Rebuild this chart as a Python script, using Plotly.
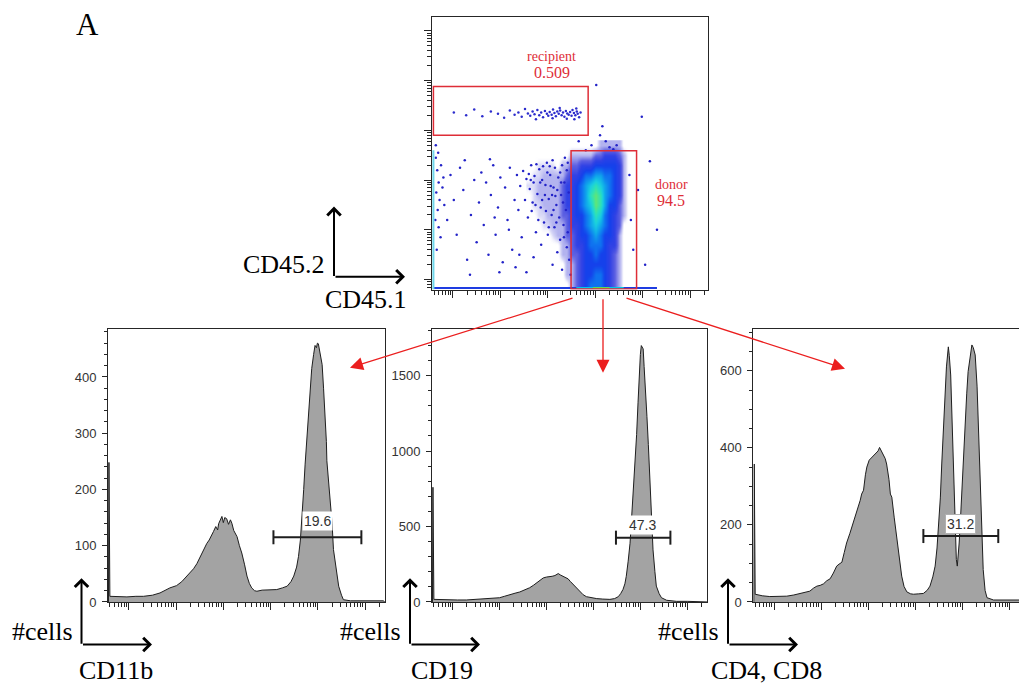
import plotly.graph_objects as go

W, H = 1019, 690

# ---------------- data (log-decade units on x, counts on y) ----------------
hist_cd11b = [(-0.43, 0), (-0.42, 248), (-0.40, 10), (-0.20, 9), (-0.04, 9), (0.15, 10), (0.31, 10),
              (0.50, 12), (0.66, 16), (0.87, 25), (1.01, 29), (1.12, 36), (1.23, 46), (1.30, 52),
              (1.37, 59), (1.44, 68), (1.51, 81), (1.58, 92), (1.65, 104), (1.70, 110), (1.74, 118),
              (1.79, 125), (1.84, 134), (1.88, 128), (1.90, 139), (1.94, 148), (1.97, 152), (2.00, 141),
              (2.03, 150), (2.07, 148), (2.11, 138), (2.15, 146), (2.18, 140), (2.22, 127), (2.29, 116),
              (2.34, 100), (2.39, 87), (2.45, 66), (2.50, 46), (2.55, 33), (2.60, 25), (2.66, 20),
              (2.71, 19), (2.82, 21), (2.92, 21), (3.02, 22), (3.13, 22), (3.25, 25), (3.35, 28),
              (3.43, 36), (3.49, 46), (3.55, 62), (3.59, 81), (3.63, 110), (3.66, 145), (3.70, 200),
              (3.73, 245), (3.77, 295), (3.80, 339), (3.84, 380), (3.87, 415), (3.91, 440), (3.94, 456),
              (3.97, 452), (3.99, 460), (4.01, 459), (4.05, 440), (4.09, 422), (4.12, 380), (4.16, 321),
              (4.18, 285), (4.19, 251), (4.23, 215), (4.26, 186), (4.30, 140), (4.33, 93), (4.39, 55),
              (4.44, 28), (4.50, 12), (4.54, 4), (4.69, 2), (5.00, 2), (5.39, 2), (5.41, 0)]

hist_cd19 = [(-0.43, 0), (-0.42, 760), (-0.40, 17), (-0.20, 14), (-0.06, 13), (0.10, 13), (0.29, 13),
             (0.50, 17), (0.72, 22), (0.86, 25), (1.00, 28), (1.11, 38), (1.22, 50), (1.33, 58),
             (1.43, 66), (1.54, 80), (1.64, 94), (1.72, 110), (1.79, 127), (1.86, 145), (1.93, 159),
             (2.00, 165), (2.07, 166), (2.12, 170), (2.18, 175), (2.22, 182), (2.25, 188), (2.30, 178),
             (2.35, 170), (2.40, 162), (2.46, 153), (2.51, 135), (2.57, 116), (2.64, 90), (2.71, 66),
             (2.78, 48), (2.85, 35), (2.95, 27), (3.07, 22), (3.20, 19), (3.35, 17), (3.45, 22),
             (3.53, 35), (3.58, 55), (3.63, 83), (3.67, 120), (3.70, 170), (3.74, 270), (3.78, 389),
             (3.81, 540), (3.85, 738), (3.88, 920), (3.92, 1109), (3.95, 1320), (3.97, 1502),
             (4.00, 1640), (4.02, 1699), (4.04, 1690), (4.06, 1677), (4.08, 1560), (4.11, 1415),
             (4.14, 1230), (4.17, 1044), (4.20, 850), (4.22, 694), (4.25, 500), (4.27, 345),
             (4.31, 200), (4.34, 105), (4.40, 55), (4.45, 28), (4.56, 11), (4.77, 4), (5.00, 4),
             (5.41, 4), (5.42, 0)]

hist_cd4cd8 = [(-0.43, 0), (-0.42, 358), (-0.40, 20), (-0.25, 16), (-0.09, 14), (0.10, 14), (0.27, 15),
               (0.42, 18), (0.55, 22), (0.66, 24), (0.76, 28), (0.84, 36), (0.91, 41), (0.98, 43),
               (1.05, 47), (1.12, 55), (1.19, 60), (1.26, 75), (1.33, 93), (1.38, 98), (1.44, 103),
               (1.49, 128), (1.54, 153), (1.61, 178), (1.68, 204), (1.74, 230), (1.79, 250), (1.83, 264),
               (1.86, 280), (1.90, 290), (1.94, 330), (1.97, 350), (2.02, 368), (2.07, 375), (2.12, 380),
               (2.18, 388), (2.21, 392), (2.24, 401), (2.28, 392), (2.32, 380), (2.36, 372), (2.39, 358),
               (2.44, 318), (2.47, 280), (2.50, 272), (2.55, 220), (2.60, 170), (2.66, 110), (2.71, 67),
               (2.76, 40), (2.82, 26), (2.90, 21), (2.96, 20), (3.07, 21), (3.17, 22), (3.25, 30),
               (3.31, 41), (3.37, 65), (3.42, 93), (3.46, 140), (3.49, 187), (3.53, 270), (3.56, 358),
               (3.60, 460), (3.63, 547), (3.66, 610), (3.70, 662), (3.72, 640), (3.75, 589), (3.78, 470),
               (3.81, 332), (3.84, 170), (3.87, 110), (3.89, 93), (3.91, 120), (3.93, 153), (3.96, 220),
               (3.98, 272), (4.02, 380), (4.05, 461), (4.09, 540), (4.12, 598), (4.16, 640), (4.20, 667),
               (4.23, 660), (4.27, 641), (4.31, 560), (4.34, 461), (4.37, 360), (4.39, 272), (4.42, 160),
               (4.44, 84), (4.48, 30), (4.52, 11), (4.66, 5), (5.00, 5), (5.20, 5)]

# gate bars: (start, end, level), gate labels: (text, x, y)
gate_cd11b = (3.06, 4.92, 115)
gate_cd19 = (3.48, 4.64, 426)
gate_cd4cd8 = (3.17, 4.76, 171)
label_cd11b = ("19.6", 3.99, 144)
label_cd19 = ("47.3", 4.04, 509)
label_cd4cd8 = ("31.2", 3.95, 201)

# dot plot: event density (rows = CD45.2 decades, cols = CD45.1 decades)
dens_x = [1.6, 1.7, 1.8, 1.9, 2.0, 2.1, 2.2, 2.3, 2.4, 2.5, 2.6, 2.7, 2.8, 2.9, 3.0, 3.1, 3.2, 3.3,
          3.4, 3.5, 3.6, 3.7]
dens_y = [-0.1, 0.1, 0.3, 0.5, 0.7, 0.9, 1.1, 1.3, 1.5, 1.7, 1.9, 2.1, 2.3, 2.5, 2.7]
dens_z = [
    [0, 0, 0, 0, 0, 0, 0, 0, 0, 1, 2, 3, 4, 5, 5, 5, 4, 3, 2, 1, 0, 0],
    [0, 0, 0, 0, 0, 0, 0, 0, 1, 1, 2, 3, 4, 4, 5, 5, 4, 3, 2, 1, 0, 0],
    [0, 0, 0, 0, 0, 0, 0, 0, 1, 1, 2, 3, 4, 4, 4, 4, 4, 3, 2, 1, 0, 0],
    [0, 0, 0, 0, 0, 0, 0, 1, 1, 2, 2, 3, 4, 4, 5, 4, 4, 3, 2, 1, 0, 0],
    [0, 0, 0, 0, 0, 0, 0, 1, 1, 2, 3, 3, 4, 5, 5, 5, 4, 3, 3, 1, 0, 0],
    [0, 0, 0, 0, 0, 0.5, 1, 1, 2, 2, 3, 4, 4, 5, 6, 5, 4, 4, 3, 1, 0, 0],
    [0, 0, 0, 0.5, 0.5, 1, 1, 1, 2, 3, 3, 4, 5, 6, 7, 6, 5, 4, 3, 2, 0, 0],
    [0, 0, 0.5, 0.5, 1, 1, 1, 2, 2, 3, 4, 4, 5, 6, 8, 7, 5, 4, 3, 2, 1, 0],
    [0, 0.5, 0.5, 1, 1, 1, 1, 2, 3, 3, 4, 5, 6, 7, 9, 8, 6, 4, 4, 2, 1, 0],
    [0, 0.5, 1, 1, 1, 1, 1, 2, 3, 3, 4, 5, 6, 8, 9, 8, 6, 5, 4, 3, 1, 0],
    [0.5, 0.5, 1, 1, 1, 1, 1, 2, 3, 3, 4, 5, 6, 7, 8, 7, 6, 5, 4, 3, 1, 0],
    [0, 0.5, 0.5, 1, 1, 1, 1, 1, 2, 3, 3, 4, 5, 5, 6, 6, 5, 5, 4, 3, 1, 0],
    [0, 0, 0.5, 0.5, 0.5, 0.5, 0, 1, 1, 2, 2, 3, 3, 3, 4, 4, 4, 4, 4, 3, 1, 0],
    [0, 0, 0, 0, 0, 0, 0, 0, 0, 1, 1, 1, 1, 1, 2, 2, 3, 3, 3, 2, 1, 0],
    [0, 0, 0, 0, 0, 0, 0, 0, 0, 0, 0, 0, 0, 0, 0, 1, 1, 1, 1, 1, 0, 0],
]

recipient_events = [(0.02, 3.36), (0.28, 3.30), (0.45, 3.42), (0.62, 3.28), (0.80, 3.38), (0.95, 3.33),
                    (1.08, 3.25), (1.20, 3.40), (1.30, 3.31), (1.38, 3.36), (1.45, 3.27), (1.52, 3.43),
                    (1.58, 3.34), (1.63, 3.29), (1.68, 3.38), (1.72, 3.32), (1.78, 3.41), (1.82, 3.30),
                    (1.86, 3.36), (1.90, 3.26), (1.94, 3.39), (1.98, 3.33), (2.01, 3.29), (2.04, 3.37),
                    (2.08, 3.31), (2.11, 3.42), (2.14, 3.35), (2.17, 3.28), (2.20, 3.38), (2.23, 3.33),
                    (2.26, 3.40), (2.29, 3.30), (2.32, 3.36), (2.35, 3.27), (2.38, 3.39), (2.41, 3.34),
                    (2.44, 3.31), (2.47, 3.37), (2.50, 3.29), (2.52, 3.41), (2.55, 3.35), (2.58, 3.30),
                    (2.61, 3.38), (2.63, 3.33), (2.66, 3.26), (2.69, 3.36), (2.60, 3.44), (2.40, 3.23),
                    (2.25, 3.45), (2.10, 3.24), (1.75, 3.22), (2.56, 3.22)]

scattered_events = [(2.40, 2.20), (2.35, 1.95), (2.30, 2.30), (2.28, 1.70), (2.22, 2.05), (2.18, 1.50),
                    (2.15, 2.25), (2.12, 1.85), (2.08, 1.30), (2.05, 2.10), (2.02, 1.62), (1.98, 2.35),
                    (1.95, 1.90), (1.92, 1.15), (1.88, 2.00), (1.85, 1.45), (1.82, 2.22), (1.78, 1.72),
                    (1.75, 0.95), (1.72, 2.08), (1.68, 1.55), (1.65, 2.30), (1.62, 1.82), (1.58, 1.25),
                    (1.55, 2.02), (1.52, 1.60), (1.48, 2.18), (1.45, 0.85), (1.42, 1.88), (1.38, 1.40),
                    (2.38, 1.40), (2.33, 1.10), (2.26, 0.80), (2.20, 0.55), (2.14, 1.05), (2.10, 2.40),
                    (2.00, 0.90), (1.96, 1.38), (1.90, 2.28), (1.86, 0.70), (2.44, 1.75), (2.42, 0.95),
                    (2.36, 2.45), (2.24, 1.25), (2.16, 1.68), (2.06, 1.88), (1.99, 2.15), (1.80, 1.20),
                    (1.70, 1.95), (1.60, 2.12),
                    (1.35, 2.10), (1.30, 1.60), (1.25, 0.60), (1.20, 2.25), (1.15, 1.20), (1.10, 1.85),
                    (1.05, 0.35), (1.00, 2.05), (0.95, 1.45), (0.90, 0.90), (0.85, 2.30), (0.80, 1.70),
                    (0.75, 0.50), (0.70, 1.95), (0.65, 1.10), (0.60, 2.15), (0.55, 1.55), (0.50, 0.75),
                    (1.32, 0.25), (1.18, 1.00), (0.98, 0.15), (0.78, 2.42), (1.40, 0.50), (0.88, 1.25),
                    (0.45, 2.00), (0.38, 1.30), (0.30, 0.40), (0.22, 1.80), (0.15, 2.25), (0.08, 0.90),
                    (0.02, 1.60), (-0.05, 2.10), (-0.12, 1.20), (0.36, 0.10), (0.25, 2.40),
                    (-0.36, 2.45), (-0.33, 2.20), (-0.30, 1.95), (-0.35, 1.75), (-0.28, 1.60), (-0.32, 1.40),
                    (-0.25, 2.30), (-0.22, 1.85), (-0.37, 1.20), (-0.30, 1.05), (-0.26, 0.85), (-0.20, 2.05),
                    (-0.34, 0.60), (-0.18, 1.50), (-0.36, 2.70), (-0.31, 2.55),
                    (3.02, 3.91), (3.98, 3.27), (4.15, 2.38), (3.10, 2.90), (3.22, 2.78), (3.30, 2.66),
                    (2.92, 2.70), (3.38, 2.62), (2.65, 2.78), (3.15, 3.08), (2.80, 2.60), (3.45, 2.70),
                    (3.75, 1.20), (3.80, 0.60), (3.90, 1.80), (4.05, 0.30), (3.72, 2.10), (4.30, 1.00),
                    (2.45, 0.40), (2.30, 0.20), (2.48, 0.10), (2.10, 0.30), (1.70, 0.45), (1.55, 0.15),
                    (2.40, 0.65),
                    (2.32, 1.55), (2.26, 2.15), (2.20, 1.80), (2.12, 1.40), (2.04, 2.28), (1.94, 1.70),
                    (1.84, 1.95), (1.76, 2.32), (1.66, 1.38), (2.42, 2.35), (2.34, 0.85), (2.18, 1.15),
                    (2.02, 1.05), (1.88, 1.60), (1.74, 1.50), (1.64, 2.00), (2.28, 1.95), (2.09, 1.70)]

# off-scale events piled at the axis minimum
floor_x = [-0.42, 4.30]
floor_cyan_x = [2.60, 3.60]
floor_green_x = [2.95, 3.30]
floor_level = -0.17
edge_level = -0.41
edge_y = [-0.20, 2.60]

# gates (x0, x1, y0, y1) and their statistics
gate_recipient = (-0.41, 2.85, 2.90, 3.88)
gate_donor = (2.49, 3.87, -0.19, 2.59)
stat_recipient = ("recipient", "0.509")
stat_donor = ("donor", "94.5")

DOT_XR = [-0.44, 5.375]
DOT_YR = [-0.2, 5.28]
HIST_XR = [-0.44, 5.42]
HIST3_XR = [-0.44, 5.20]

# ---------------- helpers ----------------
def px(x):
    return x / W

def py(y):
    return 1 - y / H

INK = '#262626'
RED = 'rgb(222,45,55)'

def log_axis(domain, rng, anchor, mirror=True):
    return dict(type='log', domain=domain, range=rng, anchor=anchor, showline=True, mirror=mirror,
                linecolor=INK, linewidth=1, ticks='outside', ticklen=7, tickwidth=1, tickcolor=INK,
                dtick=1, showticklabels=False, showgrid=False, zeroline=False,
                minor=dict(ticks='outside', ticklen=4, tickwidth=1, tickcolor=INK, dtick='D1',
                           showgrid=False))

def lin_overlay(base, domain, rng, anchor):
    return dict(overlaying=base, domain=domain, range=rng, anchor=anchor, visible=False,
                showgrid=False, zeroline=False)

def count_axis(domain, rng, anchor, major, minor, mirror=True):
    return dict(domain=domain, range=rng, anchor=anchor, showline=True, mirror=mirror, linecolor=INK,
                linewidth=1, ticks='outside', ticklen=5, tickwidth=1, tickcolor=INK, dtick=major,
                showgrid=False, zeroline=False, ticklabelstandoff=3,
                tickfont=dict(family='Liberation Sans, Arial', size=13, color='#333'),
                minor=dict(ticks='outside', ticklen=3, tickwidth=1, tickcolor=INK, dtick=minor,
                           showgrid=False))

fig = go.Figure()

# empty traces so that the tick-carrying (log) subplots are drawn
for xa, ya in [('x', 'y'), ('x3', 'y3'), ('x5', 'y5'), ('x7', 'y7')]:
    fig.add_trace(go.Scatter(x=[], y=[], xaxis=xa, yaxis=ya, showlegend=False))

# ---------------- dot plot ----------------
fig.add_trace(go.Heatmap(x=dens_x, y=dens_y, z=dens_z, xaxis='x2', yaxis='y2', zmin=0, zmax=9,
                         zsmooth='best', showscale=False, hoverinfo='skip',
                         colorscale=[[0, 'rgba(255,255,255,0)'], [0.055, 'rgba(50,50,210,0.18)'],
                                     [0.11, 'rgba(40,40,210,0.35)'],
                                     [0.22, 'rgba(30,35,215,0.72)'], [0.33, 'rgba(20,40,225,0.88)'],
                                     [0.45, 'rgb(20,65,235)'], [0.56, 'rgb(15,115,240)'],
                                     [0.67, 'rgb(15,165,235)'], [0.78, 'rgb(25,205,225)'],
                                     [0.89, 'rgb(45,225,185)'], [1, 'rgb(95,230,120)']]))
sx, sy = zip(*scattered_events)
fig.add_trace(go.Scatter(x=sx, y=sy, xaxis='x2', yaxis='y2', mode='markers', showlegend=False,
                         marker=dict(size=2.5, color='rgb(35,35,200)'), hoverinfo='skip'))
rx, ry = zip(*recipient_events)
fig.add_trace(go.Scatter(x=rx, y=ry, xaxis='x2', yaxis='y2', mode='markers', showlegend=False,
                         marker=dict(size=2.5, color='rgb(45,45,205)'), hoverinfo='skip'))
fig.add_trace(go.Scatter(x=floor_x, y=[floor_level] * 2, xaxis='x2', yaxis='y2', mode='lines',
                         line=dict(color='rgb(30,60,225)', width=2), showlegend=False, hoverinfo='skip'))
fig.add_trace(go.Scatter(x=floor_cyan_x, y=[floor_level] * 2, xaxis='x2', yaxis='y2', mode='lines',
                         line=dict(color='rgb(0,200,230)', width=2), showlegend=False, hoverinfo='skip'))
fig.add_trace(go.Scatter(x=floor_green_x, y=[floor_level] * 2, xaxis='x2', yaxis='y2', mode='lines',
                         line=dict(color='rgb(90,220,90)', width=2), showlegend=False, hoverinfo='skip'))
fig.add_trace(go.Scatter(x=[edge_level] * 2, y=edge_y, xaxis='x2', yaxis='y2', mode='lines',
                         line=dict(color='rgb(110,215,235)', width=2), showlegend=False, hoverinfo='skip'))

shapes = []
for g in (gate_recipient, gate_donor):
    shapes.append(dict(type='rect', xref='x2', yref='y2', x0=g[0], x1=g[1], y0=g[2], y1=g[3],
                       line=dict(color=RED, width=1.5), fillcolor='rgba(0,0,0,0)'))

# ---------------- histograms ----------------
hists = [
    (hist_cd11b, 'x4', 'y3', gate_cd11b, label_cd11b, False),
    (hist_cd19, 'x6', 'y5', gate_cd19, label_cd19, False),
    (hist_cd4cd8, 'x8', 'y7', gate_cd4cd8, label_cd4cd8, True),
]
annotations = []
for data, xa, ya, gate, lab, boxed in hists:
    hx, hy = zip(*data)
    fig.add_trace(go.Scatter(x=hx, y=hy, xaxis=xa, yaxis=ya, mode='lines', fill='tozeroy',
                             fillcolor='rgb(163,163,163)', line=dict(color='#1e1e1e', width=1),
                             showlegend=False, hoverinfo='skip'))
    fig.add_trace(go.Scatter(x=[gate[0], gate[1]], y=[gate[2], gate[2]], xaxis=xa, yaxis=ya,
                             mode='lines+markers', line=dict(color='#1e1e1e', width=2),
                             marker=dict(symbol='line-ns', size=10, line=dict(color='#1e1e1e', width=2)),
                             showlegend=False, hoverinfo='skip'))
    annotations.append(dict(x=lab[1], y=lab[2], xref=xa, yref=ya, text=lab[0], showarrow=False,
                            bgcolor='white', borderpad=1,
                            bordercolor='#b0b0b0' if boxed else 'rgba(0,0,0,0)', borderwidth=1,
                            font=dict(family='Liberation Sans, Arial', size=14, color='#333')))

# ---------------- text & arrows ----------------
def txt(x, y, s, size, color='black', family='Liberation Serif, Times New Roman'):
    return dict(x=px(x), y=py(y), xref='paper', yref='paper', text=s, showarrow=False,
                xanchor='center', yanchor='middle', font=dict(family=family, size=size, color=color))

def arrow(tip, tail, color, width, head, size):
    return dict(x=px(tip[0]), y=py(tip[1]), xref='paper', yref='paper', text='', showarrow=True,
                ax=tail[0] - tip[0], ay=tail[1] - tip[1], axref='pixel', ayref='pixel',
                arrowhead=head, arrowsize=size, arrowwidth=width, arrowcolor=color, standoff=0)

annotations += [
    txt(87, 25, 'A', 31),
    txt(284, 268, 'CD45.2', 26), txt(366, 303, 'CD45.1', 26),
    txt(42, 639, '#cells', 26), txt(370, 639, '#cells', 26), txt(688, 639, '#cells', 26),
    txt(116, 678, 'CD11b', 26), txt(442, 678, 'CD19', 26), txt(766, 678, 'CD4, CD8', 26),
]
for t1, t2, xx, y1, y2 in [(stat_recipient[0], stat_recipient[1], 2.08, 4.49, 4.16),
                           (stat_donor[0], stat_donor[1], 4.60, 1.91, 1.58)]:
    for s, yy, sz in [(t1, y1, 14), (t2, y2, 16)]:
        annotations.append(dict(x=xx, y=yy, xref='x2', yref='y2', text=s, showarrow=False,
                                font=dict(family='Liberation Serif, Times New Roman', size=sz, color=RED)))

for cx, cy, up, right in [(334, 280, 209, 405), (81.5, 652, 585, 152), (410, 652, 585, 480),
                          (728, 652, 585, 798)]:
    annotations.append(arrow((cx, up), (cx, cy), 'black', 2, 4, 1.3))
    annotations.append(arrow((right, cy), (cx, cy), 'black', 2, 4, 1.3))

annotations.append(arrow((350, 372), (574, 302), 'rgb(235,30,30)', 1.3, 2, 2))
annotations.append(arrow((603, 377), (603, 302), 'rgb(235,30,30)', 1.3, 2, 2))
annotations.append(arrow((845, 373), (625, 302), 'rgb(235,30,30)', 1.3, 2, 2))

D_DOT_X = [px(432), px(708)]
D_DOT_Y = [py(293), py(17)]
D_H1 = [px(108), px(385)]
D_H2 = [px(432), px(707)]
D_H3 = [px(753.3), 1.0]
D_HY = [py(609), py(333)]

fig.update_layout(
    width=W, height=H, autosize=False, margin=dict(l=0, r=0, t=0, b=0),
    paper_bgcolor='white', plot_bgcolor='rgba(0,0,0,0)', showlegend=False,
    xaxis=log_axis(D_DOT_X, DOT_XR, 'y'),
    yaxis=log_axis(D_DOT_Y, DOT_YR, 'x'),
    xaxis2=lin_overlay('x', D_DOT_X, DOT_XR, 'y2'),
    yaxis2=lin_overlay('y', D_DOT_Y, DOT_YR, 'x2'),
    xaxis3=log_axis(D_H1, HIST_XR, 'y3'),
    yaxis3=count_axis(D_HY, [0, 485], 'x3', 100, 20),
    xaxis4=lin_overlay('x3', D_H1, HIST_XR, 'y3'),
    xaxis5=log_axis(D_H2, HIST_XR, 'y5'),
    yaxis5=count_axis(D_HY, [0, 1808], 'x5', 500, 100),
    xaxis6=lin_overlay('x5', D_H2, HIST_XR, 'y5'),
    xaxis7=log_axis(D_H3, HIST3_XR, 'y7'),
    yaxis7=count_axis(D_HY, [0, 708], 'x7', 200, 50, mirror=False),
    xaxis8=lin_overlay('x7', D_H3, HIST3_XR, 'y7'),
    shapes=shapes, annotations=annotations,
)

fig.write_html("out.html")
